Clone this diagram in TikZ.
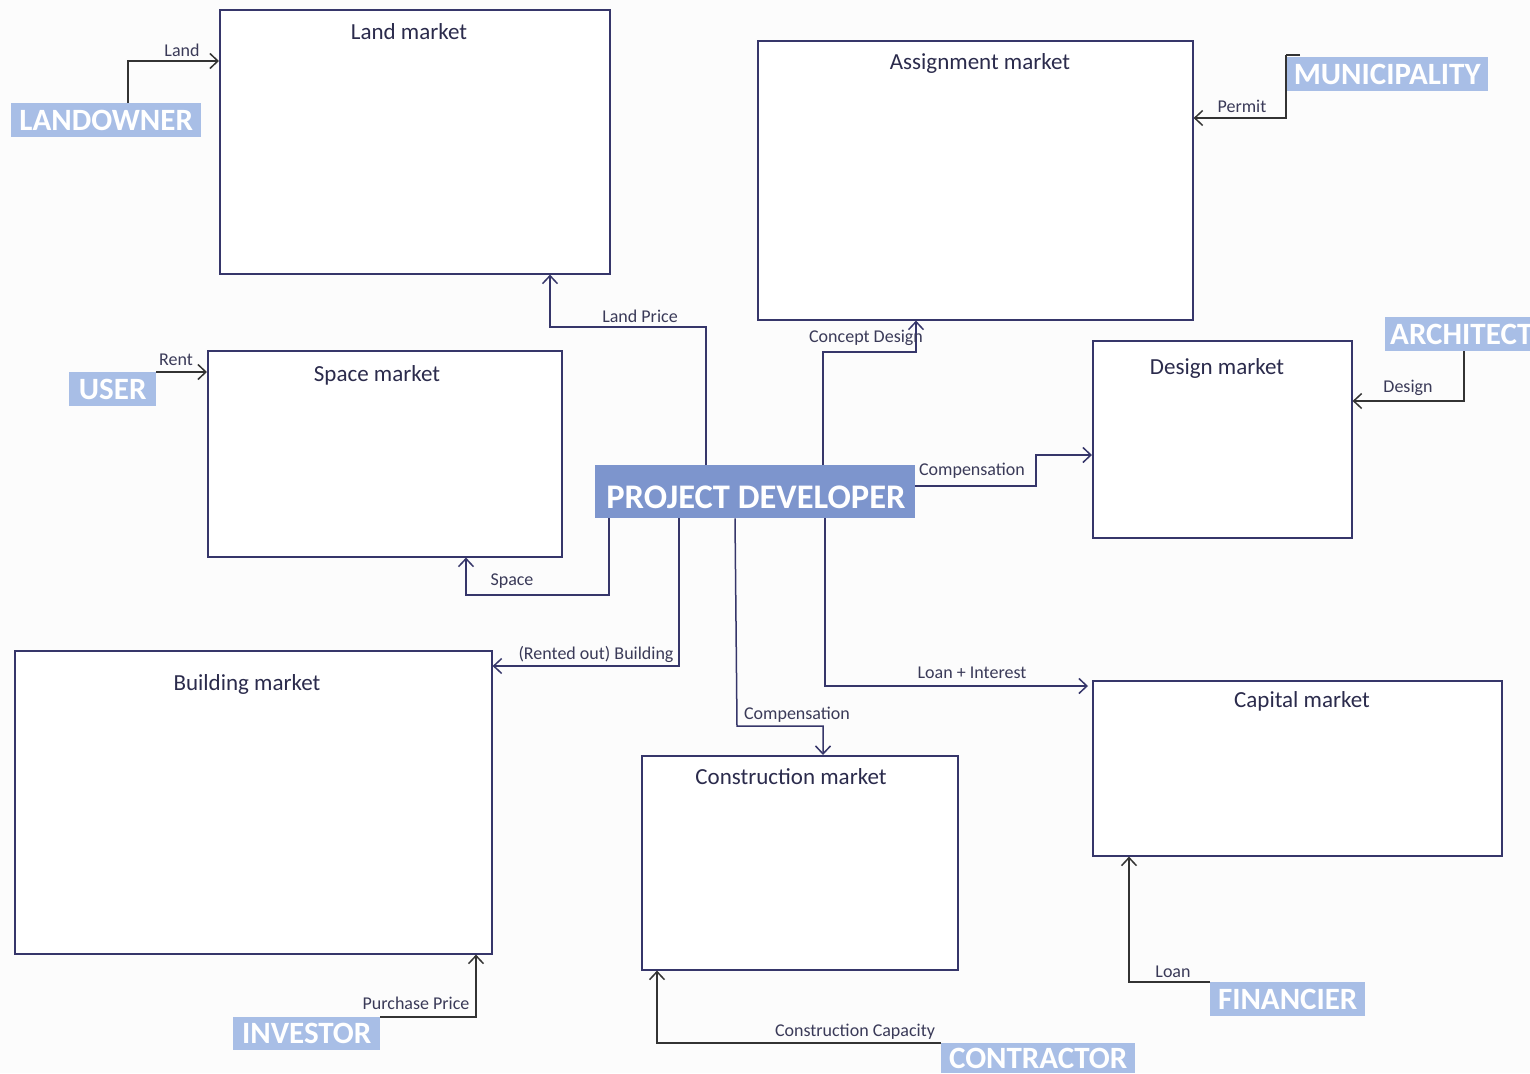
\documentclass[tikz,border=0pt]{standalone}
\usepackage{fontspec}
\setmainfont{Carlito}
\usetikzlibrary{arrows.meta}
\definecolor{boxline}{HTML}{36366A}
\definecolor{titletext}{HTML}{2B2B4C}
\definecolor{labeltext}{HTML}{3A3A58}
\definecolor{actline}{HTML}{333333}
\definecolor{pdfill}{HTML}{7D95CD}
\definecolor{actfill}{HTML}{A8BEE6}
\tikzset{
  market/.style={draw=boxline, line width=1.6pt, fill=white, anchor=north west, inner sep=0pt},
  mtitle/.style={text=titletext, font=\fontsize{23}{26}\selectfont, inner sep=0pt},
  flab/.style={text=labeltext, font=\fontsize{18}{20}\selectfont, inner sep=0pt},
  actor/.style={fill=actfill, text=white, font=\bfseries\fontsize{31}{33}\selectfont, anchor=north west, inner sep=0pt, text depth=0pt},
  pdev/.style={fill=pdfill, text=white, font=\bfseries\fontsize{34.5}{36}\selectfont, anchor=north west, inner sep=0pt, text depth=0pt},
  act/.style={draw=actline, line width=1.5pt, -{Straight Barb[length=8pt,width=15pt,line width=1.5pt]}},
  mk/.style={draw=boxline, line width=1.5pt, -{Straight Barb[length=8pt,width=15pt,line width=1.5pt]}},
  actline/.style={draw=actline, line width=1.5pt}
}
\begin{document}
\begin{tikzpicture}[x=1pt,y=-1pt]
\clip (0,0) rectangle (1530,1073);
\fill[white!99!black] (0,0) rectangle (1530,1073);

% market boxes
\node[market, minimum width=390pt, minimum height=264pt] (land) at (219,9) {};
\node[market, minimum width=435pt, minimum height=279pt] (assign) at (757,40) {};
\node[market, minimum width=354pt, minimum height=206pt] (space) at (207,350) {};
\node[market, minimum width=259pt, minimum height=197pt] (design) at (1092,340) {};
\node[market, minimum width=477pt, minimum height=303pt] (building) at (14,650) {};
\node[market, minimum width=316pt, minimum height=214pt] (construction) at (641,755) {};
\node[market, minimum width=409pt, minimum height=175pt] (capital) at (1092,680) {};

% titles
\node[mtitle] (tland) at (409,32) {Land market};
\node[mtitle] (tassign) at (980,63) {Assignment market};
\node[mtitle] (tspace) at (377,375) {Space market};
\node[mtitle] (tdesign) at (1217,368) {Design market};
\node[mtitle] (tbuilding) at (247,684) {Building market};
\node[mtitle] (tconstruction) at (791,777) {Construction market};
\node[mtitle] (tcapital) at (1302,701) {Capital market};

% actors
\node[actor, minimum width=190pt, minimum height=34pt] (landowner) at (11,103) {LANDOWNER};
\node[actor, minimum width=87pt, minimum height=34pt] (user) at (69,372) {USER};
\node[actor, minimum width=202pt, minimum height=34pt] (muni) at (1286,57) {MUNICIPALITY};
\node[actor, minimum width=200pt, minimum height=34pt, text width=190pt, align=left] (architect) at (1385,317) {ARCHITECT};
\node[pdev, minimum width=320pt, minimum height=53pt] (pd) at (595,465) {};
\node[text=white, font=\bfseries\fontsize{34.5}{36}\selectfont, inner sep=0pt] (pdtext) at (756,497) {PROJECT DEVELOPER};
\node[actor, minimum width=147pt, minimum height=33pt] (investor) at (233,1017) {INVESTOR};
\node[actor, minimum width=194pt, minimum height=30pt] (contractor) at (941,1043) {CONTRACTOR};
\node[actor, minimum width=155pt, minimum height=34pt] (financier) at (1210,982) {FINANCIER};

% actor connectors
\draw[act] (landowner.north -| 128,0) |- (land.west |- 0,61);
\draw[actline] (muni.north west) ++(14,-2) -- ++(-14,0);
\draw[act] (muni.north west) ++(0,-2) |- (assign.east |- 0,118);
\draw[act] (user.north east) -- (space.west |- user.north east);
\draw[act] (architect.south -| 1464,0) |- (design.east |- 0,401);
\draw[act] (investor.north east) -| (building.south -| 476,0);
\draw[act] (contractor.north west) -| (construction.south -| 657,0);
\draw[act] (financier.north west) -| (capital.south -| 1129,0);

% developer connectors
\draw[mk] (pd.north -| 706,0) -- (706,327) -| (land.south -| 550,0);
\draw[mk] (pd.north -| 823,0) -- (823,352) -| (assign.south -| 916,0);
\draw[mk] (pd.east |- 0,486) -- (1036,486) |- (design.west |- 0,455);
\draw[mk] (pd.south -| 609,0) |- (466,595) -- (space.south -| 466,0);
\draw[mk] (pd.south -| 679,0) |- (building.east |- 0,666);
\draw[mk] (pd.south -| 735,0) -- (737,726) -| (construction.north -| 823,0);
\draw[mk] (pd.south -| 825,0) |- ([xshift=-4pt]capital.west |- 0,686);

% labels
\node[flab] (lland) at (182,50) {Land};
\node[flab] (lpermit) at (1242,106) {Permit};
\node[flab] (lrent) at (176,360) {Rent};
\node[flab] (ldesign) at (1408,388) {Design};
\node[flab] (llandprice) at (640,316) {Land Price};
\node[flab] (lconcept) at (866,338) {Concept Design};
\node[flab] (lcomp1) at (972,471) {Compensation};
\node[flab] (lspace) at (512,581) {Space};
\node[flab] (lbuilding) at (596,654) {(Rented out) Building};
\node[flab] (lcomp2) at (797,715) {Compensation};
\node[flab] (lloanint) at (972,673) {Loan + Interest};
\node[flab] (lpurchase) at (416,1003) {Purchase Price};
\node[flab] (lcapacity) at (855,1032) {Construction Capacity};
\node[flab] (lloan) at (1173,972) {Loan};
\end{tikzpicture}
\end{document}
